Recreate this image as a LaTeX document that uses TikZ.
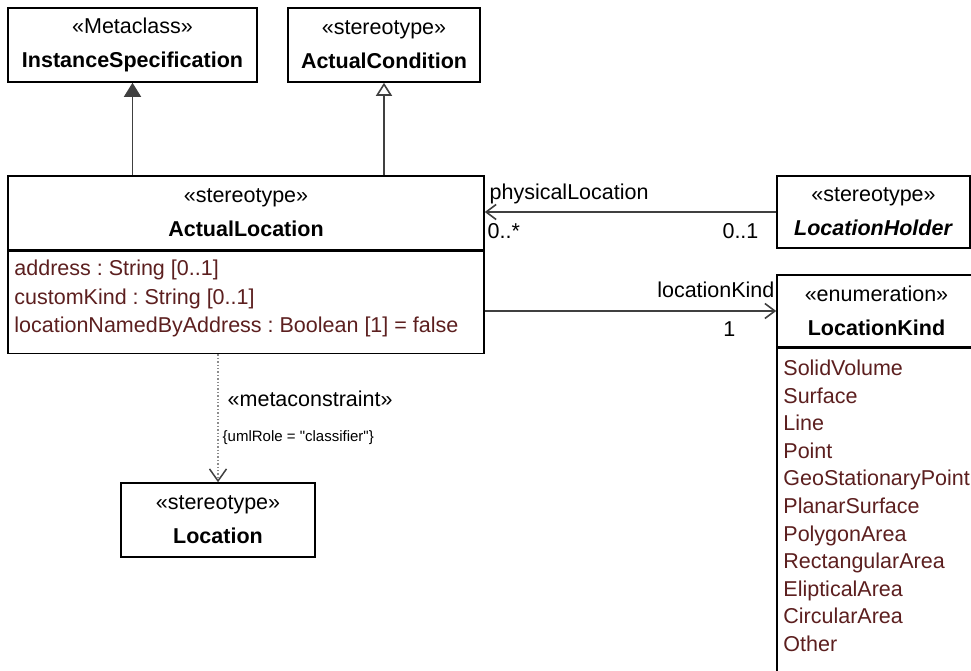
\documentclass[tikz,border=0pt]{standalone}
\usepackage{fontspec}
\setmainfont{Liberation Sans}[Ligatures=TeXOff]
\usetikzlibrary{arrows.meta,calc}
\definecolor{umlLine}{HTML}{404040}
\definecolor{umlAttr}{HTML}{5C1F1F}
\definecolor{umlDot}{HTML}{8C8C8C}

\begin{document}
\frenchspacing
\begin{tikzpicture}[
  x=1pt, y=-1pt,
  font=\fontsize{21.5}{34}\selectfont,
  cls/.style={draw=black,line width=1.6pt,fill=white,align=center,inner sep=0pt},
  frame/.style={draw=black,line width=1.6pt,fill=white,anchor=north west,inner sep=0pt},
  attr/.style={anchor=north west,align=left,inner sep=0pt,text=umlAttr,
               font=\fontsize{21.5}{28.5}\selectfont},
  inherit/.style={draw=umlLine,line width=1.6pt,-{Triangle[length=14pt,width=17pt]}},
  gen/.style={draw=umlLine,line width=1.6pt,-{Triangle[open,length=13pt,width=16pt,fill=white]}},
  assoc/.style={draw=umlLine,line width=1.6pt,-{Straight Barb[length=10pt,width=15pt]}},
  dep/.style={draw=umlDot,line width=1.4pt,dotted,
              -{Straight Barb[length=12pt,width=17pt,line width=1.5pt,umlLine,sep=0pt]}},
  lbl/.style={inner sep=2pt},
  small/.style={inner sep=2pt,font=\fontsize{15}{18}\selectfont},
]
\clip (0,0) rectangle (971,671);

% classes on top
\node[cls,minimum width=249,minimum height=74] (is) at (132.5,45)
  {«Metaclass»\\\textbf{InstanceSpecification}};
\node[cls,minimum width=192,minimum height=74] (ac) at (384,45)
  {«stereotype»\\\textbf{ActualCondition}};

% ActualLocation with attributes
\node[cls,minimum width=476,minimum height=74] (al) at (246,213)
  {«stereotype»\\\textbf{ActualLocation}};
\node[frame,minimum width=476,minimum height=102] (albody) at (al.south west) {};
\node[attr] (alattr) at ($(albody.north west)+(7,9)$)
  {address : String [0..1]\\customKind : String [0..1]\\locationNamedByAddress : Boolean [1] = false};

% right hand side
\node[cls,minimum width=193,minimum height=72] (lh) at (873.5,212)
  {«stereotype»\\\textbf{\textit{LocationHolder}}};
\node[cls,minimum width=199,minimum height=72] (lk) at (876.5,311)
  {«enumeration»\\\textbf{LocationKind}};
\node[frame,minimum width=199,minimum height=340] (lkbody) at (lk.south west) {};
\node[attr,font=\fontsize{21.5}{27.6}\selectfont] (lklit) at ($(lkbody.north west)+(7,12)$)
  {SolidVolume\\Surface\\Line\\Point\\GeoStationaryPoint\\PlanarSurface\\PolygonArea\\
   RectangularArea\\ElipticalArea\\CircularArea\\Other};

% Location
\node[cls,minimum width=194,minimum height=74] (loc) at (218,520)
  {«stereotype»\\\textbf{Location}};

% generalizations
\draw[inherit] (is.south |- al.north) -- (is.south);
\draw[gen] (ac.south |- al.north) -- (ac.south);

% associations
\draw[assoc] (lh.west) --
  node[lbl,pos=1,anchor=south west,xshift=2pt,yshift=5pt]{physicalLocation}
  node[lbl,pos=1,anchor=north west,yshift=-9pt]{0..*}
  node[lbl,pos=0,anchor=north east,xshift=-15pt,yshift=-9pt]{0..1}
  (al.east |- lh.west);
\draw[assoc] (al.east |- lk.west) --
  node[lbl,pos=1,anchor=south east,xshift=1pt,yshift=10pt]{locationKind}
  node[lbl,pos=1,anchor=north east,xshift=-38pt,yshift=-8pt]{1}
  (lk.west);

% metaconstraint
\draw[dep] (loc.north |- albody.south) --
  node[lbl,pos=0.35,anchor=west,xshift=7pt]{«metaconstraint»}
  node[small,pos=0.65,anchor=west,xshift=2pt]{\{umlRole = "classifier"\}}
  (loc.north);
\end{tikzpicture}
\end{document}
